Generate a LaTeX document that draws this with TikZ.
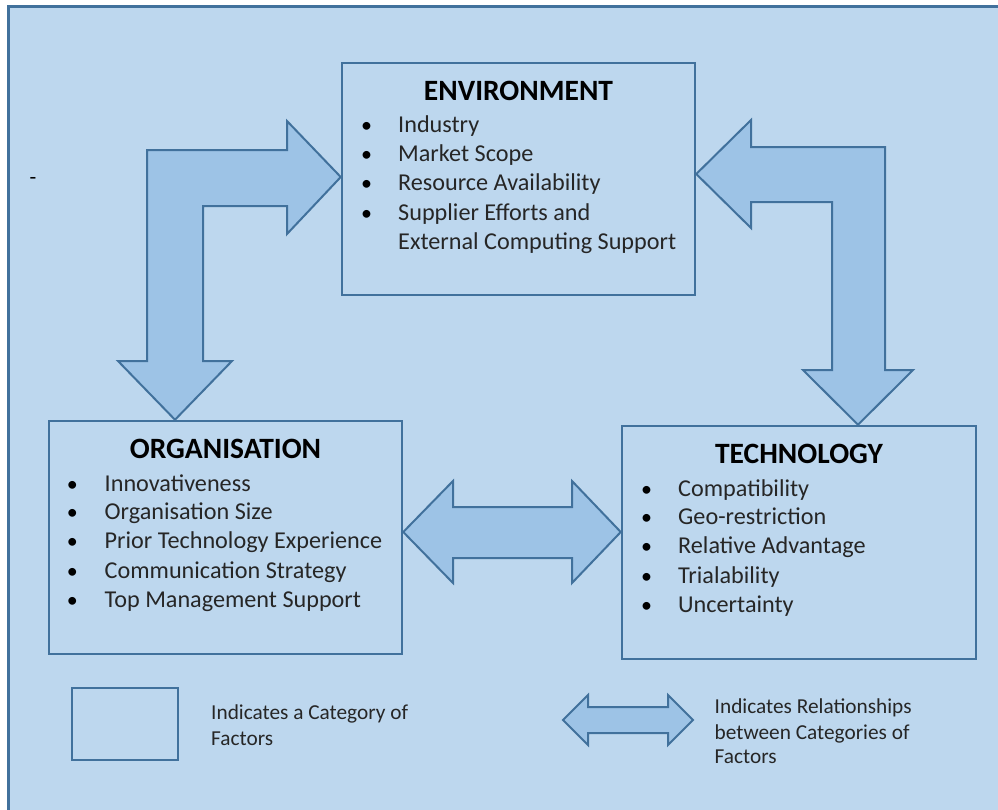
\documentclass[tikz,border=0pt]{standalone}
\usepackage{fontspec}
\setmainfont{Carlito}
\definecolor{bgblue}{HTML}{BDD7EE}
\definecolor{arrblue}{HTML}{9DC3E6}
\definecolor{edgeblue}{HTML}{41719C}
\tikzset{
  catbox/.style={draw=edgeblue, line width=2.5pt, fill=bgblue, inner sep=0pt},
  blockarrow/.style={draw=edgeblue, line width=2pt, fill=arrblue, line join=miter},
  boxtitle/.style={font=\fontsize{29.5}{32}\selectfont\bfseries, anchor=base, inner sep=0pt},
  item/.style={font=\fontsize{24.2}{28}\selectfont, anchor=base west, inner sep=0pt, text=black!85},
  bul/.style={font=\fontsize{22}{27}\selectfont, anchor=base, inner sep=0pt},
  legtext/.style={font=\fontsize{21.3}{25}\selectfont, anchor=base west, inner sep=0pt, text=black!85}
}
\begin{document}
\begin{tikzpicture}[x=1pt,y=-1pt]
\useasboundingbox (0,0) rectangle (998,809);
\fill[white] (0,0) rectangle (998,809);
\begin{scope}
\clip (0,0) rectangle (998,809);
\draw[draw=edgeblue, line width=3pt, fill=bgblue] (8,6) rectangle (1010,830);
\end{scope}
\node[font=\fontsize{22}{24}\selectfont, inner sep=0pt] (dash) at (33,181) {-};

% category boxes
\node[catbox, minimum width=353pt, minimum height=232pt] (env) at (518.5,179) {};
\node[catbox, minimum width=353pt, minimum height=233pt] (org) at (225.5,537.5) {};
\node[catbox, minimum width=354pt, minimum height=233pt] (tech) at (799,542.5) {};

% Environment
\node[boxtitle] (envt) at (518.5,100) {ENVIRONMENT};
\foreach \y/\t [count=\i] in {132/Industry,161/Market Scope,190/Resource Availability,220.5/Supplier Efforts and}{
  \node[bul] (envb\i) at (366.7,\y) {•};
  \node[item] (envi\i) at (398,\y) {\t};
}
\node[item] (envi5) at (398,249) {External Computing Support};

% Organisation
\node[boxtitle] (orgt) at (225.5,458.3) {ORGANISATION};
\foreach \y/\t [count=\i] in {491/Innovativeness,519.3/Organisation Size,548.3/Prior Technology Experience,578.3/Communication Strategy,607.7/Top Management Support}{
  \node[bul] (orgb\i) at (72.3,\y) {•};
  \node[item] (orgi\i) at (104.5,\y) {\t};
}

% Technology
\node[boxtitle] (techt) at (799,463.3) {TECHNOLOGY};
\foreach \y/\t [count=\i] in {496/Compatibility,524.3/Geo-restriction,553.3/Relative Advantage,583.3/Trialability,612.7/Uncertainty}{
  \node[bul] (techb\i) at (646.7,\y) {•};
  \node[item] (techi\i) at (678,\y) {\t};
}

% arrow tips
\coordinate (tipA) at (env.west |- 0,177);
\coordinate (tipB) at (175,0 |- org.north);
\coordinate (tipC) at (env.east |- 0,174);
\coordinate (tipD) at (858,0 |- tech.north);
\coordinate (tipE) at (org.east |- 0,532);
\coordinate (tipF) at (tech.west |- 0,532);

% Environment <-> Organisation
\draw[blockarrow] (147,150) -- (287,150) -- (287,121) -- (tipA) -- (287,234) -- (287,206)
  -- (203,206) -- (203,361) -- (232,361) -- (tipB) -- (118,361) -- (147,361) -- cycle;
% Environment <-> Technology
\draw[blockarrow] (tipC) -- (751,120) -- (751,147) -- (885,147) -- (885,370) -- (913,370)
  -- (tipD) -- (803,370) -- (832,370) -- (832,202) -- (751,202) -- (751,228) -- cycle;
% Organisation <-> Technology
\draw[blockarrow] (tipE) -- (453,481) -- (453,507) -- (572,507) -- (572,481) -- (tipF)
  -- (572,583) -- (572,558) -- (453,558) -- (453,583) -- cycle;

% legend
\node[catbox, minimum width=106pt, minimum height=72pt] (legbox) at (125,724) {};
\node[legtext] (legt1) at (211,719) {Indicates a Category of};
\node[legtext] (legt2) at (211,745.5) {Factors};
\draw[blockarrow] (563,720) -- (588,695) -- (588,707) -- (668,707) -- (668,695) -- (693,720)
  -- (668,745) -- (668,733) -- (588,733) -- (588,745) -- cycle;
\node[legtext] (legt3) at (714.5,713.5) {Indicates Relationships};
\node[legtext] (legt4) at (714.5,739) {between Categories of};
\node[legtext] (legt5) at (714.5,763.5) {Factors};
\end{tikzpicture}
\end{document}
